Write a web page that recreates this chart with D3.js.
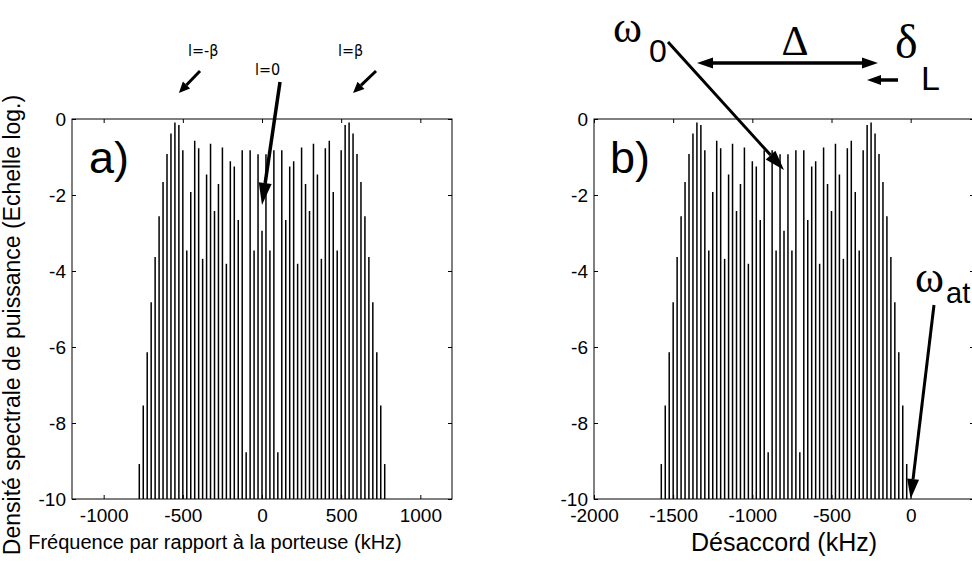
<!DOCTYPE html>
<html>
<head>
<meta charset="utf-8">
<script src="https://cdn.jsdelivr.net/npm/d3@7"></script>
<style>
  html, body { margin: 0; padding: 0; background: #fff; }
  svg { display: block; font-family: "Liberation Sans", Arial, Helvetica, sans-serif; }
</style>
</head>
<body>
<svg id="chart" width="972" height="565"></svg>
<script>
// ---- data ----
// sideband frequencies, panel a (kHz relative to carrier)
const freqA = [-775,-750,-725,-700,-675,-650,-625,-600,-575,-550,-525,-500,-475,-450,-425,-400,
  -375,-350,-325,-300,-275,-250,-225,-200,-175,-150,-125,-100,-75,-50,-25,0,
  25,50,75,100,125,150,175,200,225,250,275,300,325,350,375,400,
  425,450,475,500,525,550,575,600,625,650,675,700,725,750,775];
// same lines, panel b (detuning, kHz)
const freqB = [-1575,-1550,-1525,-1500,-1475,-1450,-1425,-1400,-1375,-1350,-1325,-1300,-1275,-1250,-1225,-1200,
  -1175,-1150,-1125,-1100,-1075,-1050,-1025,-1000,-975,-950,-925,-900,-875,-850,-825,-800,
  -775,-750,-725,-700,-675,-650,-625,-600,-575,-550,-525,-500,-475,-450,-425,-400,
  -375,-350,-325,-300,-275,-250,-225,-200,-175,-150,-125,-100,-75,-50,-25];
// log10 power of each line
const logPower = [-9.08,-7.54,-6.14,-4.82,-3.63,-2.56,-1.66,-0.92,-0.38,-0.09,-0.16,-0.82,-3.46,-1.92,-0.57,-0.77,
  -3.68,-1.46,-0.65,-2.42,-1.71,-0.75,-3.81,-1.11,-1.25,-2.66,-0.82,-8.77,-0.82,-3.46,-0.93,-2.94,
  -0.93,-3.46,-0.82,-8.77,-0.82,-2.66,-1.25,-1.11,-3.81,-0.75,-1.71,-2.42,-0.65,-1.46,-3.68,-0.77,
  -0.57,-1.92,-3.46,-0.82,-0.16,-0.09,-0.38,-0.92,-1.66,-2.56,-3.63,-4.82,-6.14,-7.54,-9.08];

const yTicks = [-10,-8,-6,-4,-2,0];
const xTicksA = [-1000,-500,0,500,1000];
const xTicksB = [-2000,-1500,-1000,-500,0];
const xDomainA = [-1200,1200];
const xDomainB = [-2000,400];
const yDomain = [-10,0];

// ---- layout ----
const svg = d3.select("#chart");
const plotTop = 119, plotBottom = 499;
const y = d3.scaleLinear().domain(yDomain).range([plotBottom, plotTop]);
const xA = d3.scaleLinear().domain(xDomainA).range([72, 452]);
const xB = d3.scaleLinear().domain(xDomainB).range([594, 974]);

function panel(x, freqs, xticks) {
  const g = svg.append("g");
  const [x0, x1] = x.range();
  // stems
  g.append("g").selectAll("line").data(freqs.map((f, i) => ({f, v: logPower[i]})))
    .join("line")
    .attr("x1", d => x(d.f)).attr("x2", d => x(d.f))
    .attr("y1", y(-10)).attr("y2", d => y(d.v))
    .attr("stroke", "#000").attr("stroke-width", 1.5);

  const fmt = d => String(d);
  const left = g.append("g").attr("transform", `translate(${x0},0)`)
    .call(d3.axisLeft(y).tickValues(yTicks).tickSize(-4).tickPadding(6).tickFormat(fmt));
  const right = g.append("g").attr("transform", `translate(${x1},0)`)
    .call(d3.axisRight(y).tickValues(yTicks).tickSize(-4).tickFormat(""));
  const bot = g.append("g").attr("transform", `translate(0,${plotBottom})`)
    .call(d3.axisBottom(x).tickValues(xticks).tickSize(-4).tickPadding(10).tickFormat(fmt));
  const tp = g.append("g").attr("transform", `translate(0,${plotTop})`)
    .call(d3.axisTop(x).tickValues(xticks).tickSize(-4).tickFormat(""));
  [left, right, bot, tp].forEach(a => {
    a.select(".domain").remove();
    a.selectAll("line").attr("stroke", "#000");
    a.selectAll("text").attr("fill", "#000").style("font-size", "19px")
      .style("font-family", '"Liberation Sans", Arial, sans-serif');
  });
  g.append("rect").attr("x", x0).attr("y", plotTop).attr("width", x1 - x0).attr("height", plotBottom - plotTop)
    .attr("fill", "none").attr("stroke", "#000").attr("stroke-width", 1);
  return g;
}

panel(xA, freqA, xTicksA);
panel(xB, freqB, xTicksB);

// ---- labels ----
svg.append("text").attr("transform", "translate(20,325) rotate(-90)")
  .attr("text-anchor", "middle").style("font-size", "23px")
  .text("Densité spectrale de puissance (Echelle log.)");
svg.append("text").attr("x", 215).attr("y", 549).attr("text-anchor", "middle")
  .style("font-size", "20px").text("Fréquence par rapport à la porteuse (kHz)");
svg.append("text").attr("x", 784).attr("y", 551).attr("text-anchor", "middle")
  .style("font-size", "25px").text("Désaccord (kHz)");

svg.append("text").attr("x", 89).attr("y", 173).style("font-size", "45px").text("a)");
svg.append("text").attr("x", 610).attr("y", 173).style("font-size", "45px").text("b)");

// ---- arrows ----
function arrow(xs, ys, xe, ye, w, hl, hw) {
  const ang = Math.atan2(ye - ys, xe - xs);
  const bx = xe - hl * Math.cos(ang), by = ye - hl * Math.sin(ang);
  svg.append("line").attr("x1", xs).attr("y1", ys).attr("x2", bx).attr("y2", by)
    .attr("stroke", "#000").attr("stroke-width", w);
  const px = -Math.sin(ang) * hw / 2, py = Math.cos(ang) * hw / 2;
  svg.append("polygon")
    .attr("points", `${xe},${ye} ${bx + px},${by + py} ${bx - px},${by - py}`)
    .attr("fill", "#000");
}

// panel a annotations
const ann = svg.append("g").style("font-family", '"Liberation Sans Narrow", "DejaVu Sans Condensed", Arial, sans-serif');
ann.append("text").attr("x", 188).attr("y", 56).style("font-size", "16px").text("l=-β");
ann.append("text").attr("x", 255).attr("y", 75).style("font-size", "16px").text("l=0");
ann.append("text").attr("x", 338).attr("y", 56).style("font-size", "16px").text("l=β");
arrow(200, 71, xA(-525), 93, 3, 11, 10);
arrow(280, 82, xA(0), y(-2.26), 3.5, 22, 13);
arrow(376, 71, xA(575), 93, 3, 11, 10);

// panel b annotations
const serif = "Liberation Serif, serif";
svg.append("text").attr("x", 613).attr("y", 42).style("font-size", "44px").style("font-family", serif).text("ω");
svg.append("text").attr("x", 649).attr("y", 62).style("font-size", "32px").text("0");
arrow(668, 42, xB(-800), y(-1.34), 3, 20, 13);

svg.append("text").attr("x", 795).attr("y", 55).attr("text-anchor", "middle")
  .style("font-size", "42px").style("font-family", serif).text("Δ");
arrow(790, 63, 697, 63, 3.5, 16, 11);
arrow(790, 63, 878, 63, 3.5, 16, 11);

svg.append("text").attr("x", 895).attr("y", 58).style("font-size", "48px").style("font-family", serif).text("δ");
svg.append("text").attr("x", 921).attr("y", 90).style("font-size", "34px").text("L");
arrow(898, 80, 867, 80, 3.5, 14, 10);

svg.append("text").attr("x", 915).attr("y", 292).style("font-size", "44px").style("font-family", serif).text("ω");
svg.append("text").attr("x", 946).attr("y", 303).style("font-size", "29px").text("at");
arrow(934, 305, xB(0), y(-10), 3, 20, 12);
</script>
</body>
</html>
